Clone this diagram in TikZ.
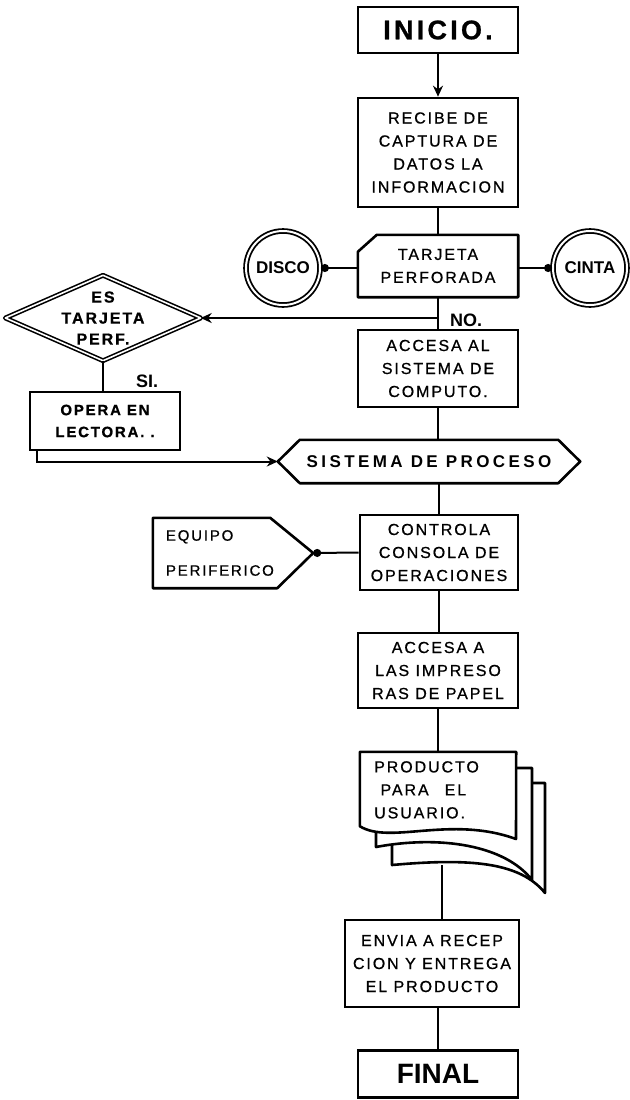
\documentclass[tikz,border=0pt]{standalone}
\usepackage{fontspec}
\setmainfont{Liberation Sans}
\newfontfamily\lbl[LetterSpace=12,FakeBold=0.8]{Liberation Sans}
\newfontfamily\lblw[LetterSpace=20]{Liberation Sans}
\usetikzlibrary{calc,arrows.meta}
\tikzset{
  ln/.style={line width=2pt},
  box/.style={draw, line width=2.6pt, minimum width=160pt, inner sep=0pt, align=center, font=\lbl\fontsize{16}{23}\selectfont},
  ghost/.style={inner sep=0pt, align=center, font=\lbl\fontsize{16}{23}\selectfont},
  outline/.style={line width=2.6pt, line join=round},
  arr/.style={ln, -{Stealth[length=11pt,width=10pt]}},
  dotstart/.style={ln, {Circle[length=8pt]}-},
  dotend/.style={ln, -{Circle[length=8pt]}},
  lab/.style={font=\bfseries\fontsize{18}{20}\selectfont, inner sep=0pt},
  ring/.style={draw, circle, double, double distance=2pt, line width=1.8pt, minimum size=74pt, inner sep=0pt, font=\bfseries\fontsize{17}{20}\selectfont},
}
\begin{document}
\begin{tikzpicture}[x=1pt,y=-1pt]
\useasboundingbox (0,0) rectangle (629,1100);

% main column
\node[box, minimum height=46pt, font=\lbl\bfseries\fontsize{27}{30}\selectfont] (ini) at (438,30) {INICIO.};
\node[box, minimum height=109pt] (rec) at (438,152.5) {RECIBE DE\\CAPTURA DE\\DATOS LA\\INFORMACION};
\node[ghost, minimum width=160pt, minimum height=62pt] (card) at (438,266) {TARJETA\\PERFORADA};
\draw[outline] ($(card.north west)+(0,17)$) -- ($(card.north west)+(19,0)$) -- (card.north east) -- (card.south east) -- (card.south west) -- cycle;

\node[ring] (disco) at (283,268) {DISCO};
\node[ring] (cinta) at (590,268) {CINTA};

\node[box, minimum height=77pt] (acc) at (438,368.5) {ACCESA AL\\SISTEMA DE\\COMPUTO.};

% decision branch
\node[ghost, minimum width=195pt, minimum height=85pt, font=\lbl\bfseries\fontsize{16}{21}\selectfont] (dia) at (103,318) {ES\\TARJETA\\PERF.};
\draw[outline, line width=1.6pt, double, double distance=1.6pt] (dia.west) -- (dia.north) -- (dia.east) -- (dia.south) -- cycle;
\node[box, minimum width=150pt, minimum height=58pt, font=\lbl\bfseries\fontsize{15}{22}\selectfont] (opera) at (105,421) {OPERA EN\\LECTORA. .};

% process
\node[ghost, minimum width=302pt, minimum height=43pt, font=\lblw\bfseries\fontsize{17}{20}\selectfont] (proc) at (429,461.5) {SISTEMA DE PROCESO};
\draw[outline] ($(proc.north west)+(22,0)$) -- ($(proc.north east)+(-22,0)$) -- (proc.east) -- ($(proc.south east)+(-22,0)$) -- ($(proc.south west)+(22,0)$) -- (proc.west) -- cycle;

\node[box, minimum width=158pt, minimum height=75pt] (ctrl) at (439,552.5) {CONTROLA\\CONSOLA DE\\OPERACIONES};
\node[ghost, minimum width=160pt, minimum height=70pt, text width=134pt, align=left, font=\lbl\fontsize{15}{35}\selectfont] (eq) at (233,553) {EQUIPO\\PERIFERICO};
\draw[outline] (eq.north west) -- ($(eq.north east)+(-43,0)$) -- (eq.east) -- ($(eq.south east)+(-36,0)$) -- (eq.south west) -- cycle;

\node[box, minimum height=75pt] (imp) at (438,670.5) {ACCESA A\\LAS IMPRESO\\RAS DE PAPEL};

% multi-document
\node[ghost, minimum width=156pt, minimum height=74pt] (prod) at (438,789) {};
\draw[outline, fill=white] (392,783) -- (545,783) -- (545,893) .. controls (520,862) and (470,858) .. (392,865) -- cycle;
\draw[outline, fill=white] (376,768) -- (532,768) -- (532,880) .. controls (505,845) and (440,835) .. (376,847) -- cycle;
\draw[outline, fill=white] (prod.north west) -- (prod.north east) -- (516,839) .. controls (450,815) and (390,845) .. (prod.south west) -- cycle;
\node[ghost, align=left, anchor=north west] (prodt) at (374,761) {PRODUCTO\\\ PARA\quad EL\\USUARIO.};
\coordinate (pb) at (442,865);

\node[box, minimum width=174pt, minimum height=87pt] (env) at (432,963.5) {ENVIA A RECEP\\CION Y ENTREGA\\EL PRODUCTO};
\node[box, minimum height=47pt, font=\bfseries\fontsize{28}{30}\selectfont] (fin) at (438,1074) {FINAL};

% connectors
\draw[arr] (ini) -- (rec);
\draw[ln] (rec) -- (card);
\draw[dotstart] (disco.east) -- (disco.east -| card.west);
\draw[dotend] (card.east |- cinta.west) -- (cinta.west);
\draw[ln] (card.south) -- (acc.north);
\coordinate (br) at (card.south |- dia.east);
\draw[arr] (br) -- (dia.east);
\node[lab, anchor=west] (no) at (450,320) {NO.};
\draw[ln] (dia.south) -- (dia.south |- opera.north);
\node[lab, anchor=west] (si) at (136,381) {SI.};
\draw[arr] ($(opera.south west)+(8,0)$) |- (proc.west);
\draw[ln] (acc.south) -- (acc.south |- proc.north);
\draw[ln] (ctrl.north |- proc.south) -- (ctrl.north);
\draw[dotstart] (eq.east) -- (ctrl.west);
\draw[ln] (ctrl.south) -- (ctrl.south |- imp.north);
\draw[ln] (imp.south) -- (imp.south |- prod.north);
\draw[ln] (pb) -- (pb |- env.north);
\draw[ln] (fin.north |- env.south) -- (fin.north);
\end{tikzpicture}
\end{document}
